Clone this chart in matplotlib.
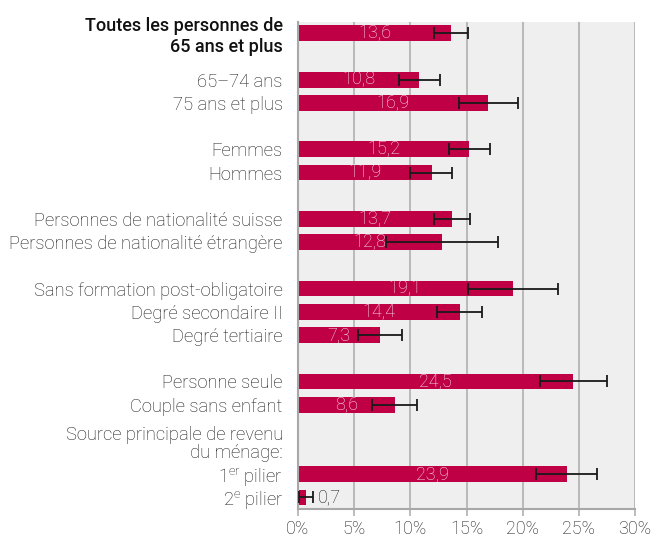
import numpy as np
import matplotlib
matplotlib.use("Agg")
import matplotlib.pyplot as plt

# Fonts: Roboto for everything, including the superscripts in mathtext.
plt.rcParams["font.family"] = ["Roboto", "DejaVu Sans"]
plt.rcParams["mathtext.fontset"] = "custom"
plt.rcParams["mathtext.rm"] = "Roboto:light"
plt.rcParams["mathtext.it"] = "Roboto:light"

# Data.
labels = [
    "Toutes les personnes de\n65 ans et plus",
    "65\u201374 ans",
    "75 ans et plus",
    "Femmes",
    "Hommes",
    "Personnes de nationalit\u00e9 suisse",
    "Personnes de nationalit\u00e9 \u00e9trang\u00e8re",
    "Sans formation post-obligatoire",
    "Degr\u00e9 secondaire II",
    "Degr\u00e9 tertiaire",
    "Personne seule",
    "Couple sans enfant",
    "1$^{\\mathrm{er}}$ pilier",
    "2$^{\\mathrm{e}}$ pilier",
]
values = [13.6, 10.8, 16.9, 15.2, 11.9, 13.7, 12.8, 19.1, 14.4, 7.3, 24.5, 8.6, 23.9, 0.7]
ci_low = [12.1, 9.0, 14.3, 13.4, 10.0, 12.1, 7.8, 15.1, 12.4, 5.3, 21.5, 6.6, 21.2, 0.1]
ci_high = [15.1, 12.6, 19.6, 17.1, 13.7, 15.3, 17.8, 23.1, 16.4, 9.3, 27.5, 10.6, 26.6, 1.3]
header_label = "Source principale de revenu\ndu m\u00e9nage:"

# Row slot of each bar (gaps between groups, two slots for the header).
slots = [0, 2, 3, 5, 6, 8, 9, 11, 12, 13, 15, 16, 19, 20]
header_slot = 17.7

bar_color = "#C00045"
text_color = "#1A1A1A"

fig = plt.figure(figsize=(6.52, 5.41), dpi=100)
ax = fig.add_axes([0.457, 0.059, 0.517, 0.901])
ax.set_facecolor("#EFEFEF")

values = np.array(values)
xerr = np.array([values - np.array(ci_low), np.array(ci_high) - values])

ax.barh(slots, values, height=0.68, color=bar_color, zorder=2)
ax.errorbar(values, slots, xerr=xerr, fmt="none", ecolor="#1A1A1A",
            elinewidth=1.3, capsize=4, capthick=1.3, zorder=3)

# Value labels: centred inside the bar, outside when the bar is tiny.
for y, v in zip(slots, values):
    txt = f"{v:.1f}".replace(".", ",")
    if v > 3:
        ax.text(v / 2, y, txt, ha="center", va="center", color="#F8E2EA",
                fontsize=13, fontweight="light", zorder=4)
    else:
        ax.text(ci_high[-1] + 0.5, y, txt, ha="left", va="center",
                color=text_color, fontsize=13, fontweight="light", zorder=4)

ax.set_xlim(0, 30)
ax.set_ylim(20.5, -0.5)
ax.set_xticks(np.arange(0, 31, 5))
ax.set_xticklabels([f"{t}%" for t in range(0, 31, 5)], fontsize=13,
                   fontweight="light", color=text_color)
ax.xaxis.grid(True, color="#B0B0B0", linewidth=1.2, zorder=1)
ax.set_axisbelow(True)

ax.set_yticks(slots)
ax.set_yticklabels(labels, fontsize=13.2, fontweight="light", color=text_color)
ticklabels = ax.get_yticklabels()
ticklabels[0].set_fontweight("medium")
ticklabels[0].set_fontsize(13)
ticklabels[0].set_color("#111111")
ax.tick_params(axis="y", length=0, pad=11)
ax.tick_params(axis="x", length=5, width=1.2, color="#B0B0B0", pad=3)

ax.text(-15 / 11.27, header_slot, header_label, transform=ax.transData,
        ha="right", va="center", fontsize=13.2, fontweight="light",
        color=text_color, linespacing=0.95)

for side in ["top", "right"]:
    ax.spines[side].set_visible(False)
for side in ["left", "bottom"]:
    ax.spines[side].set_color("#A8A8A8")
    ax.spines[side].set_linewidth(1.5)

fig.savefig("out.png", dpi=100)
